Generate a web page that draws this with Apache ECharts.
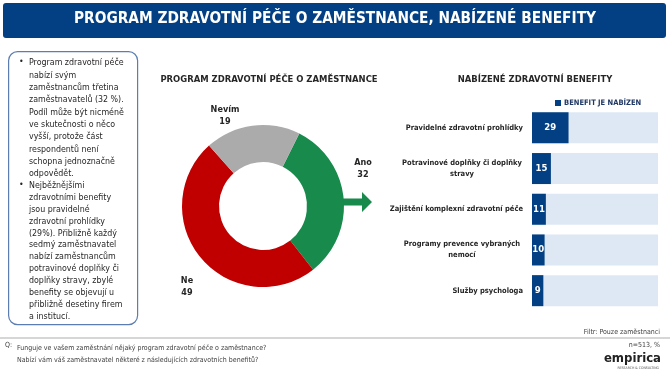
<!DOCTYPE html>
<html>
<head>
<meta charset="utf-8">
<script src="https://cdn.jsdelivr.net/npm/echarts@6/dist/echarts.min.js"></script>
<style>
  html, body { margin: 0; padding: 0; background: #fff; }
  #main { width: 670px; height: 376px; }
</style>
</head>
<body>
<div id="main"></div>
<script>
// data
var pieNames = ['Ano', 'Ne', 'Nevím'];
var pieValues = [32, 49, 19];
var pieColors = ['#178A4C', '#C00000', '#ABABAB'];

var benefitNames = [
    'Pravidelné zdravotní prohlídky',
    'Potravinové doplňky či doplňky\nstravy',
    'Zajištění komplexní zdravotní péče',
    'Programy prevence vybraných\nnemocí',
    'Služby psychologa'
];
var benefitValues = [29, 15, 11, 10, 9];
var seriesName = 'BENEFIT JE NABÍZEN';

var note1 = ['Program zdravotní péče', 'nabízí svým', 'zaměstnancům třetina', 'zaměstnavatelů (32 %).',
    'Podíl může být nicméně', 've skutečnosti o něco', 'vyšší, protože část', 'respondentů není',
    'schopna jednoznačně', 'odpovědět.'];
var note2 = ['Nejběžnějšími', 'zdravotními benefity', 'jsou pravidelné', 'zdravotní prohlídky',
    '(29%). Přibližně každý', 'sedmý zaměstnavatel', 'nabízí zaměstnancům', 'potravinové doplňky či',
    'doplňky stravy, zbylé', 'benefity se objevují u', 'přibližně desetiny firem', 'a institucí.'];

var FONT = '"Liberation Sans Narrow", "DejaVu Sans Condensed", "Noto Sans", sans-serif';
var navy = '#024083';
var dark = '#262626';

var myChart = echarts.init(document.getElementById('main'));

// label spots around the donut
var pieLabelPos = [[363, 169], [187, 287], [225, 116]];

var option = {
    animation: false,
    textStyle: { fontFamily: FONT },
    title: [
        {
            text: 'PROGRAM ZDRAVOTNÍ PÉČE O ZAMĚSTNANCE',
            left: 264, top: 70, textAlign: 'center',
            textStyle: { fontSize: 9.4, fontWeight: 'bold', color: dark, fontFamily: FONT }
        },
        {
            text: 'NABÍZENÉ ZDRAVOTNÍ BENEFITY',
            left: 530, top: 70, textAlign: 'center',
            textStyle: { fontSize: 9.4, fontWeight: 'bold', color: dark, fontFamily: FONT }
        }
    ],
    legend: {
        data: [seriesName],
        left: 550, top: 94,
        icon: 'rect', itemWidth: 6, itemHeight: 6, itemGap: 4,
        textStyle: { fontSize: 7.5, fontWeight: 'bold', color: '#1F3864', fontFamily: FONT, padding: [0, 0, 0, -2] }
    },
    grid: { left: 532, right: 12, top: 107.5, height: 203.5 },
    xAxis: { type: 'value', min: 0, max: 100, show: false },
    yAxis: {
        type: 'category',
        data: benefitNames,
        inverse: true,
        axisLine: { show: false },
        axisTick: { show: false },
        axisLabel: {
            margin: 9,
            fontSize: 7.5,
            fontWeight: 'bold',
            color: dark,
            fontFamily: FONT,
            lineHeight: 11,
            formatter: function (v) {
                if (v.indexOf('\n') < 0) return v;
                return v.split('\n').map(function (s) { return '{m|' + s + '}'; }).join('\n');
            },
            rich: {
                m: { width: 122, align: 'center', fontSize: 7.5, fontWeight: 'bold', color: dark, fontFamily: FONT, lineHeight: 11 }
            }
        }
    },
    series: [
        {
            name: seriesName,
            type: 'bar',
            data: benefitValues,
            barWidth: 31,
            itemStyle: { color: navy },
            showBackground: true,
            backgroundStyle: { color: '#DEE8F5' },
            label: {
                show: true, position: 'inside',
                color: '#fff', fontSize: 9.5, fontWeight: 'bold', fontFamily: FONT
            }
        },
        {
            name: 'pie',
            type: 'pie',
            center: [263, 206],
            radius: [44, 81],
            startAngle: 63.4,
            clockwise: true,
            data: pieNames.map(function (n, i) {
                return { name: n, value: pieValues[i], itemStyle: { color: pieColors[i] } };
            }),
            label: {
                show: true,
                formatter: '{b}\n{c}',
                fontSize: 9, fontWeight: 'bold', color: dark, fontFamily: FONT,
                lineHeight: 12, align: 'center'
            },
            labelLine: { show: false },
            labelLayout: function (p) {
                var pos = pieLabelPos[p.dataIndex];
                return { x: pos[0], y: pos[1], align: 'center', verticalAlign: 'middle' };
            },
            emphasis: { disabled: true }
        }
    ],
    graphic: [
        // top banner
        {
            type: 'rect', left: 3, top: 3,
            shape: { width: 663, height: 35, r: 3 },
            style: { fill: navy }
        },
        {
            type: 'text', left: 'center', top: 12,
            style: {
                text: 'PROGRAM ZDRAVOTNÍ PÉČE O ZAMĚSTNANCE, NABÍZENÉ BENEFITY',
                fill: '#fff', font: 'bold 15.3px ' + FONT
            }
        },
        // note box
        {
            type: 'rect', left: 8, top: 51,
            shape: { width: 129, height: 273, r: 9 },
            style: { fill: '#fff', stroke: '#5B7DB1', lineWidth: 1.2 }
        },
        {
            type: 'text', left: 19, top: 57,
            style: { text: '•', fill: dark, font: '8.8px ' + FONT }
        },
        {
            type: 'text', left: 29, top: 57,
            style: { text: note1.join('\n'), fill: dark, font: '8.8px ' + FONT, lineHeight: 12.3 }
        },
        {
            type: 'text', left: 19, top: 180,
            style: { text: '•', fill: dark, font: '8.8px ' + FONT }
        },
        {
            type: 'text', left: 29, top: 180,
            style: { text: note2.join('\n'), fill: dark, font: '8.8px ' + FONT, lineHeight: 11.85 }
        },
        // arrow out of the donut
        {
            type: 'polygon',
            shape: { points: [[338, 198.5], [362, 198.5], [362, 192], [372, 202], [362, 212], [362, 205.5], [338, 205.5]] },
            style: { fill: '#178A4C' }
        },
        // footer
        {
            type: 'line',
            shape: { x1: 0, y1: 338, x2: 670, y2: 338 },
            style: { stroke: '#C8C8C8', lineWidth: 1.5 }
        },
        {
            type: 'text', right: 10, top: 329,
            style: { text: 'Filtr: Pouze zaměstnanci', fill: '#404040', font: '7px ' + FONT }
        },
        {
            type: 'text', left: 5, top: 342,
            style: { text: 'Q:', fill: '#404040', font: '7px ' + FONT }
        },
        {
            type: 'text', left: 17, top: 342,
            style: {
                text: 'Funguje ve vašem zaměstnání nějaký program zdravotní péče o zaměstnance?\nNabízí vám váš zaměstnavatel některé z následujících zdravotních benefitů?',
                fill: '#404040', font: '7px ' + FONT, lineHeight: 12
            }
        },
        {
            type: 'text', right: 10, top: 342,
            style: { text: 'n=513, %', fill: '#404040', font: '7px ' + FONT }
        },
        {
            type: 'text', right: 9, top: 352,
            style: { text: 'empirica', fill: '#222', font: 'bold 13px ' + FONT }
        },
        {
            type: 'text', right: 11, top: 366,
            style: { text: 'RESEARCH & CONSULTING', fill: '#555', font: '3.5px ' + FONT }
        }
    ]
};

myChart.setOption(option);
</script>
</body>
</html>
